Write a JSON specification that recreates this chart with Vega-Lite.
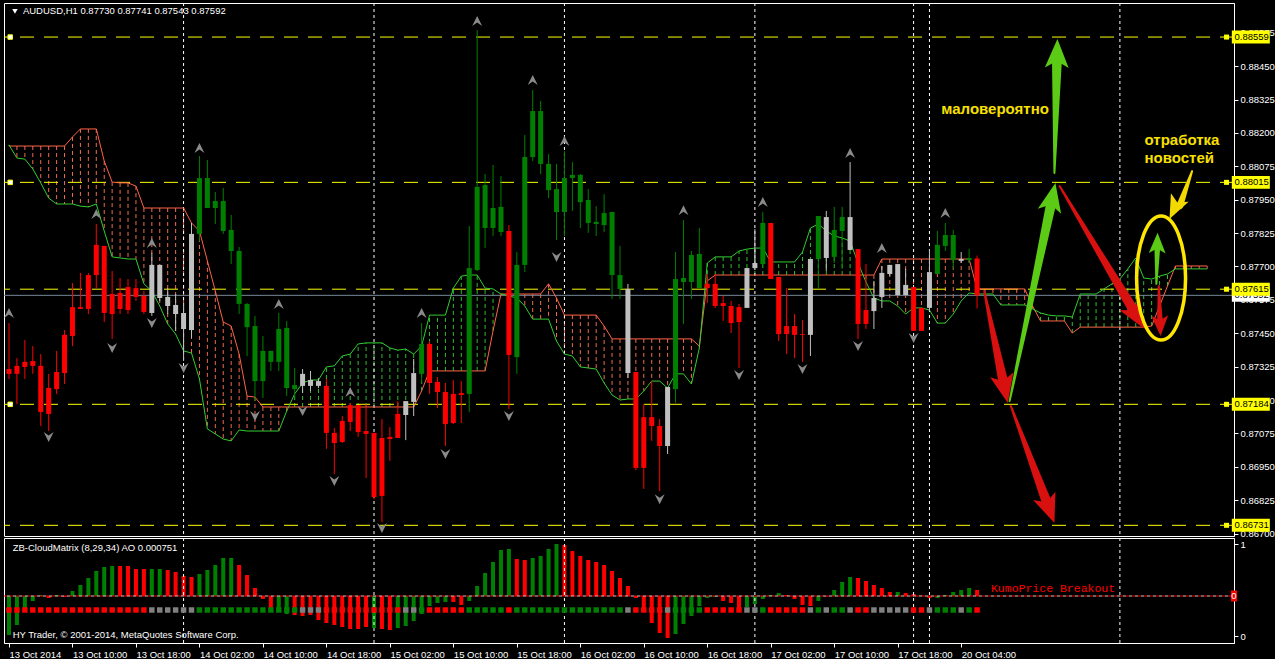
{
"$schema": "https://vega.github.io/schema/vega-lite/v6.json",
"background": "#000000",
"padding": {"left": 3, "top": 2, "right": 0, "bottom": 0},
"spacing": 2,
"bounds": "flush",
"config": {
  "view": {"stroke": "#FFFFFF", "strokeWidth": 1},
  "axis": {"labelFont": "Liberation Sans", "labelFontSize": 9.5, "labelColor": "#FFFFFF", "tickColor": "#FFFFFF", "domainColor": "#FFFFFF", "grid": false, "labelOverlap": false, "labelFlush": false, "labelBound": false, "tickSize": 4, "labelPadding": 2}
},
"datasets": {
  "seps": [{"i":22},{"i":46},{"i":70},{"i":94},{"i":114},{"i":116},{"i":140}],
  "levels": [{"p":0.88559},{"p":0.88015},{"p":0.87615},{"p":0.87184},{"p":0.86731}],
  "anchors": [{"p":0.88559},{"p":0.88015},{"p":0.87184}],
  "bid": [{"p":0.87592}],
  "zero": [{"v":0}],
  "fractals": [
    {"i":0,"p":0.87526,"t":"up"},{"i":11,"p":0.87897,"t":"up"},{"i":18,"p":0.87788,"t":"up"},{"i":24,"p":0.88144,"t":"up"},{"i":34,"p":0.8756,"t":"up"},{"i":43,"p":0.8723,"t":"up"},{"i":52,"p":0.87526,"t":"up"},{"i":59,"p":0.88619,"t":"up"},{"i":66,"p":0.88398,"t":"up"},{"i":70,"p":0.8817,"t":"up"},{"i":85,"p":0.87911,"t":"up"},{"i":95,"p":0.87941,"t":"up"},{"i":106,"p":0.88125,"t":"up"},{"i":110,"p":0.87769,"t":"up"},{"i":118,"p":0.879,"t":"up"},
    {"i":5,"p":0.87062,"t":"dn"},{"i":13,"p":0.87395,"t":"dn"},{"i":18,"p":0.87488,"t":"dn"},{"i":22,"p":0.8732,"t":"dn"},{"i":31,"p":0.8714,"t":"dn"},{"i":37,"p":0.87159,"t":"dn"},{"i":41,"p":0.86897,"t":"dn"},{"i":47,"p":0.86721,"t":"dn"},{"i":55,"p":0.86998,"t":"dn"},{"i":63,"p":0.8714,"t":"dn"},{"i":69,"p":0.87736,"t":"dn"},{"i":82,"p":0.86829,"t":"dn"},{"i":92,"p":0.87294,"t":"dn"},{"i":100,"p":0.87316,"t":"dn"},{"i":107,"p":0.87402,"t":"dn"},{"i":114,"p":0.87432,"t":"dn"}
  ],
  "arrowpts": [
    {"id":"A1","dir":"down","kind":"major","end":"tail","seq":0,"i":122.9,"p":0.87608},
    {"id":"A1","dir":"down","kind":"major","end":"neck","seq":1,"i":125.35,"p":0.87262},
    {"id":"A2","dir":"up","kind":"major","end":"tail","seq":0,"i":126.1,"p":0.87196},
    {"id":"A2","dir":"up","kind":"major","end":"neck","seq":1,"i":131.36,"p":0.87939},
    {"id":"A3","dir":"up","kind":"major","end":"tail","seq":0,"i":131.75,"p":0.8805},
    {"id":"A3","dir":"up","kind":"major","end":"neck","seq":1,"i":132.07,"p":0.88477},
    {"id":"A4","dir":"down","kind":"major","end":"tail","seq":0,"i":132.4,"p":0.88001},
    {"id":"A4","dir":"down","kind":"major","end":"neck","seq":1,"i":141.84,"p":0.8753},
    {"id":"A5","dir":"down","kind":"major","end":"tail","seq":0,"i":126.25,"p":0.87178},
    {"id":"A5","dir":"down","kind":"major","end":"neck","seq":1,"i":130.875,"p":0.8681},
    {"id":"A6","dir":"up","kind":"minor","end":"tail","seq":0,"i":144.6,"p":0.87635},
    {"id":"A6","dir":"up","kind":"minor","end":"neck","seq":1,"i":144.72,"p":0.8778},
    {"id":"A7","dir":"down","kind":"minor","end":"tail","seq":0,"i":144.9,"p":0.87627},
    {"id":"A7","dir":"down","kind":"minor","end":"neck","seq":1,"i":145.06,"p":0.87485},
    {"id":"A8","dir":"note","kind":"mid","end":"tail","seq":0,"i":149.1,"p":0.88057},
    {"id":"A8","dir":"note","kind":"mid","end":"neck","seq":1,"i":147.56,"p":0.87928}
  ],
  "arrowheads": [
    {"id":"A1","dir":"down","kind":"major","i":125.875,"p":0.87189,"ang":167.9},
    {"id":"A2","dir":"up","kind":"major","i":131.875,"p":0.88013,"ang":11.9},
    {"id":"A3","dir":"up","kind":"major","i":132.125,"p":0.88552,"ang":1.3},
    {"id":"A4","dir":"down","kind":"major","i":143.125,"p":0.87466,"ang":149},
    {"id":"A5","dir":"down","kind":"major","i":131.75,"p":0.8674,"ang":159.4},
    {"id":"A6","dir":"up","kind":"minor","i":144.75,"p":0.87826,"ang":1.2},
    {"id":"A7","dir":"down","kind":"minor","i":145.125,"p":0.8744,"ang":177.8},
    {"id":"A8","dir":"note","kind":"mid","i":146.25,"p":0.87878,"ang":205.6}
  ],
  "bars": [
{"i":0,"o":0.87316,"h":0.87488,"l":0.87279,"c":0.87298,"s":"bear","a":0.88151,"b":0.88155,"ao":-0.004875,"ac":"up"},
{"i":1,"o":0.87328,"h":0.87357,"l":0.87185,"c":0.87298,"s":"bear","a":0.88151,"b":0.88106,"ao":-0.003625,"ac":"up"},
{"i":2,"o":0.87343,"h":0.87425,"l":0.87279,"c":0.87324,"s":"bear","a":0.88151,"b":0.88102,"ao":-0.002,"ac":"up"},
{"i":3,"o":0.87346,"h":0.87402,"l":0.87298,"c":0.87328,"s":"bear","a":0.88151,"b":0.88065,"ao":-0.000625,"ac":"up"},
{"i":4,"o":0.87328,"h":0.87372,"l":0.87103,"c":0.87155,"s":"bear","a":0.88151,"b":0.88013,"ao":0.000125,"ac":"up"},
{"i":5,"o":0.87245,"h":0.87298,"l":0.87084,"c":0.87148,"s":"bear","a":0.88151,"b":0.87956,"ao":-0.00025,"ac":"dn"},
{"i":6,"o":0.87305,"h":0.87384,"l":0.87223,"c":0.87241,"s":"bear","a":0.88151,"b":0.87934,"ao":0.000125,"ac":"up"},
{"i":7,"o":0.87444,"h":0.87462,"l":0.8726,"c":0.87301,"s":"bear","a":0.88151,"b":0.87934,"ao":-0.000125,"ac":"dn"},
{"i":8,"o":0.87548,"h":0.87638,"l":0.87402,"c":0.8744,"s":"bear","a":0.88185,"b":0.87934,"ao":0.000625,"ac":"up"},
{"i":9,"o":0.87548,"h":0.87676,"l":0.87541,"c":0.87541,"s":"bear","a":0.88215,"b":0.87926,"ao":0.001375,"ac":"up"},
{"i":10,"o":0.87668,"h":0.87676,"l":0.87522,"c":0.87541,"s":"bear","a":0.88215,"b":0.87923,"ao":0.00225,"ac":"up"},
{"i":11,"o":0.87781,"h":0.87859,"l":0.87619,"c":0.87668,"s":"bear","a":0.88215,"b":0.87934,"ao":0.003125,"ac":"up"},
{"i":12,"o":0.87777,"h":0.87777,"l":0.87492,"c":0.87526,"s":"bear","a":0.88095,"b":0.87833,"ao":0.003625,"ac":"up"},
{"i":13,"o":0.87597,"h":0.87683,"l":0.87429,"c":0.87522,"s":"bear","a":0.88016,"b":0.87736,"ao":0.00375,"ac":"up"},
{"i":14,"o":0.87601,"h":0.87657,"l":0.87522,"c":0.87541,"s":"bear","a":0.88013,"b":0.87732,"ao":0.00375,"ac":"dn"},
{"i":15,"o":0.87623,"h":0.87653,"l":0.87522,"c":0.87537,"s":"bear","a":0.88013,"b":0.87728,"ao":0.00375,"ac":"dn"},
{"i":16,"o":0.87619,"h":0.87653,"l":0.87571,"c":0.87586,"s":"bear","a":0.88001,"b":0.87728,"ao":0.003375,"ac":"dn"},
{"i":17,"o":0.8759,"h":0.87608,"l":0.87522,"c":0.8753,"s":"bear","a":0.87919,"b":0.87635,"ao":0.003375,"ac":"dn"},
{"i":18,"o":0.87706,"h":0.87751,"l":0.87515,"c":0.87526,"s":"flat","a":0.87919,"b":0.87608,"ao":0.003375,"ac":"up"},
{"i":19,"o":0.87706,"h":0.87706,"l":0.87571,"c":0.87582,"s":"flat","a":0.87919,"b":0.87552,"ao":0.003375,"ac":"up"},
{"i":20,"o":0.87586,"h":0.87619,"l":0.87522,"c":0.87552,"s":"flat","a":0.87919,"b":0.87485,"ao":0.00325,"ac":"dn"},
{"i":21,"o":0.87556,"h":0.87597,"l":0.87459,"c":0.87522,"s":"flat","a":0.87919,"b":0.87447,"ao":0.003,"ac":"dn"},
{"i":22,"o":0.87526,"h":0.87563,"l":0.87346,"c":0.87466,"s":"flat","a":0.87919,"b":0.87384,"ao":0.0025,"ac":"dn"},
{"i":23,"o":0.87822,"h":0.87863,"l":0.87432,"c":0.87462,"s":"flat","a":0.87863,"b":0.87376,"ao":0.002375,"ac":"dn"},
{"i":24,"o":0.87822,"h":0.88114,"l":0.87795,"c":0.88031,"s":"bull","a":0.87833,"b":0.87279,"ao":0.00275,"ac":"up"},
{"i":25,"o":0.87919,"h":0.88099,"l":0.87919,"c":0.88031,"s":"bull","a":0.87721,"b":0.87092,"ao":0.00325,"ac":"up"},
{"i":26,"o":0.87919,"h":0.87979,"l":0.87859,"c":0.87945,"s":"bull","a":0.87608,"b":0.87073,"ao":0.003875,"ac":"up"},
{"i":27,"o":0.87833,"h":0.87994,"l":0.87822,"c":0.87945,"s":"bull","a":0.87492,"b":0.87054,"ao":0.00475,"ac":"up"},
{"i":28,"o":0.87758,"h":0.87893,"l":0.87709,"c":0.87837,"s":"bull","a":0.87477,"b":0.87047,"ao":0.00475,"ac":"up"},
{"i":29,"o":0.8756,"h":0.87773,"l":0.87522,"c":0.87758,"s":"bull","a":0.87372,"b":0.87088,"ao":0.003875,"ac":"dn"},
{"i":30,"o":0.87473,"h":0.87563,"l":0.87365,"c":0.8756,"s":"bull","a":0.87215,"b":0.87084,"ao":0.002625,"ac":"dn"},
{"i":31,"o":0.87271,"h":0.87515,"l":0.87196,"c":0.87477,"s":"bull","a":0.87211,"b":0.87084,"ao":0.001,"ac":"dn"},
{"i":32,"o":0.87271,"h":0.8744,"l":0.87208,"c":0.87384,"s":"bull","a":0.87174,"b":0.87084,"ao":-0.000375,"ac":"dn"},
{"i":33,"o":0.87343,"h":0.87384,"l":0.87309,"c":0.87384,"s":"bull","a":0.87174,"b":0.87084,"ao":-0.0015,"ac":"dn"},
{"i":34,"o":0.87343,"h":0.87526,"l":0.87309,"c":0.87466,"s":"bull","a":0.87174,"b":0.87084,"ao":-0.002,"ac":"up"},
{"i":35,"o":0.87245,"h":0.87496,"l":0.87215,"c":0.8747,"s":"bull","a":0.87174,"b":0.87159,"ao":-0.00225,"ac":"up"},
{"i":36,"o":0.87241,"h":0.8732,"l":0.87208,"c":0.87256,"s":"bull","a":0.87174,"b":0.87223,"ao":-0.002375,"ac":"dn"},
{"i":37,"o":0.87298,"h":0.87316,"l":0.87226,"c":0.87253,"s":"flat","a":0.87174,"b":0.87264,"ao":-0.0025,"ac":"dn"},
{"i":38,"o":0.87275,"h":0.87309,"l":0.87234,"c":0.87253,"s":"flat","a":0.87174,"b":0.87275,"ao":-0.002375,"ac":"dn"},
{"i":39,"o":0.87271,"h":0.87282,"l":0.87245,"c":0.87253,"s":"flat","a":0.87174,"b":0.87275,"ao":-0.003,"ac":"dn"},
{"i":40,"o":0.87253,"h":0.87279,"l":0.87017,"c":0.87077,"s":"bear","a":0.87174,"b":0.87324,"ao":-0.003375,"ac":"dn"},
{"i":41,"o":0.87077,"h":0.87095,"l":0.86923,"c":0.87039,"s":"bear","a":0.87174,"b":0.87328,"ao":-0.003625,"ac":"dn"},
{"i":42,"o":0.87122,"h":0.8714,"l":0.87039,"c":0.87043,"s":"bear","a":0.87174,"b":0.87365,"ao":-0.003875,"ac":"dn"},
{"i":43,"o":0.87181,"h":0.87189,"l":0.87084,"c":0.87118,"s":"bear","a":0.87174,"b":0.87372,"ao":-0.004125,"ac":"dn"},
{"i":44,"o":0.87181,"h":0.87181,"l":0.87062,"c":0.8708,"s":"bear","a":0.87174,"b":0.8741,"ao":-0.004125,"ac":"dn"},
{"i":45,"o":0.87084,"h":0.87185,"l":0.86908,"c":0.87073,"s":"bear","a":0.87174,"b":0.87414,"ao":-0.003875,"ac":"dn"},
{"i":46,"o":0.87077,"h":0.87077,"l":0.86829,"c":0.86837,"s":"bear","a":0.87174,"b":0.87414,"ao":-0.004,"ac":"up"},
{"i":47,"o":0.87058,"h":0.87129,"l":0.86743,"c":0.86841,"s":"bear","a":0.87174,"b":0.87414,"ao":-0.004125,"ac":"dn"},
{"i":48,"o":0.87062,"h":0.87099,"l":0.86972,"c":0.87054,"s":"bear","a":0.87174,"b":0.87395,"ao":-0.00425,"ac":"dn"},
{"i":49,"o":0.87148,"h":0.87196,"l":0.87058,"c":0.87058,"s":"bear","a":0.87174,"b":0.87387,"ao":-0.004,"ac":"up"},
{"i":50,"o":0.87196,"h":0.87196,"l":0.8705,"c":0.87144,"s":"flat","a":0.87174,"b":0.87391,"ao":-0.00375,"ac":"up"},
{"i":51,"o":0.87301,"h":0.87354,"l":0.8714,"c":0.87193,"s":"flat","a":0.87174,"b":0.87372,"ao":-0.003125,"ac":"up"},
{"i":52,"o":0.87298,"h":0.87488,"l":0.87264,"c":0.8741,"s":"bull","a":0.87234,"b":0.87402,"ao":-0.00225,"ac":"up"},
{"i":53,"o":0.8741,"h":0.87421,"l":0.87223,"c":0.87264,"s":"bear","a":0.87309,"b":0.87518,"ao":-0.00125,"ac":"up"},
{"i":54,"o":0.87268,"h":0.87286,"l":0.8717,"c":0.8723,"s":"bear","a":0.87309,"b":0.87518,"ao":-0.000875,"ac":"up"},
{"i":55,"o":0.8723,"h":0.87264,"l":0.87028,"c":0.8711,"s":"bear","a":0.87309,"b":0.87518,"ao":-0.00075,"ac":"up"},
{"i":56,"o":0.87223,"h":0.87275,"l":0.8711,"c":0.87114,"s":"bear","a":0.87309,"b":0.87619,"ao":-0.00075,"ac":"dn"},
{"i":57,"o":0.87226,"h":0.87271,"l":0.87114,"c":0.87219,"s":"bear","a":0.87309,"b":0.87664,"ao":-0.001125,"ac":"dn"},
{"i":58,"o":0.87223,"h":0.87852,"l":0.87155,"c":0.87694,"s":"bull","a":0.87309,"b":0.87668,"ao":-0.000625,"ac":"up"},
{"i":59,"o":0.87687,"h":0.88585,"l":0.87683,"c":0.87998,"s":"bull","a":0.87309,"b":0.87668,"ao":0.00125,"ac":"up"},
{"i":60,"o":0.87844,"h":0.88046,"l":0.87769,"c":0.88005,"s":"bull","a":0.87309,"b":0.87619,"ao":0.002875,"ac":"up"},
{"i":61,"o":0.87844,"h":0.8808,"l":0.87814,"c":0.87919,"s":"bull","a":0.87459,"b":0.87616,"ao":0.00425,"ac":"up"},
{"i":62,"o":0.87829,"h":0.88039,"l":0.87814,"c":0.87923,"s":"bull","a":0.87597,"b":0.87597,"ao":0.00575,"ac":"up"},
{"i":63,"o":0.87833,"h":0.87855,"l":0.87166,"c":0.87369,"s":"bear","a":0.87597,"b":0.8759,"ao":0.005875,"ac":"up"},
{"i":64,"o":0.87361,"h":0.87754,"l":0.87298,"c":0.87706,"s":"bull","a":0.87597,"b":0.87582,"ao":0.004625,"ac":"dn"},
{"i":65,"o":0.87706,"h":0.88192,"l":0.87679,"c":0.8811,"s":"bull","a":0.87597,"b":0.87552,"ao":0.0045,"ac":"dn"},
{"i":66,"o":0.8811,"h":0.88361,"l":0.88095,"c":0.88282,"s":"bull","a":0.87597,"b":0.87503,"ao":0.00475,"ac":"up"},
{"i":67,"o":0.88084,"h":0.8832,"l":0.88046,"c":0.88282,"s":"bull","a":0.87597,"b":0.87503,"ao":0.005,"ac":"up"},
{"i":68,"o":0.87986,"h":0.88121,"l":0.87956,"c":0.88084,"s":"bull","a":0.87635,"b":0.87503,"ao":0.005875,"ac":"up"},
{"i":69,"o":0.87904,"h":0.88084,"l":0.87799,"c":0.8799,"s":"bull","a":0.87582,"b":0.87421,"ao":0.0065,"ac":"up"},
{"i":70,"o":0.87904,"h":0.88132,"l":0.87814,"c":0.88031,"s":"bull","a":0.87518,"b":0.87372,"ao":0.006375,"ac":"dn"},
{"i":71,"o":0.88031,"h":0.88091,"l":0.87908,"c":0.88043,"s":"bull","a":0.87518,"b":0.87365,"ao":0.005625,"ac":"dn"},
{"i":72,"o":0.87941,"h":0.88046,"l":0.87844,"c":0.88043,"s":"bull","a":0.87518,"b":0.87324,"ao":0.005,"ac":"dn"},
{"i":73,"o":0.87863,"h":0.8799,"l":0.87826,"c":0.87949,"s":"bull","a":0.87518,"b":0.8732,"ao":0.0045,"ac":"dn"},
{"i":74,"o":0.87859,"h":0.87926,"l":0.87814,"c":0.87867,"s":"bull","a":0.87518,"b":0.87316,"ao":0.00425,"ac":"dn"},
{"i":75,"o":0.87855,"h":0.87971,"l":0.87829,"c":0.879,"s":"bull","a":0.87477,"b":0.87264,"ao":0.003875,"ac":"dn"},
{"i":76,"o":0.87668,"h":0.87904,"l":0.87578,"c":0.87904,"s":"bull","a":0.87429,"b":0.87219,"ao":0.003125,"ac":"dn"},
{"i":77,"o":0.87616,"h":0.87777,"l":0.87578,"c":0.87668,"s":"bull","a":0.87429,"b":0.872,"ao":0.00225,"ac":"dn"},
{"i":78,"o":0.87616,"h":0.87635,"l":0.87282,"c":0.87301,"s":"flat","a":0.87429,"b":0.87204,"ao":0.00125,"ac":"dn"},
{"i":79,"o":0.87305,"h":0.87305,"l":0.86938,"c":0.86946,"s":"bear","a":0.87429,"b":0.87204,"ao":-0.00025,"ac":"dn"},
{"i":80,"o":0.87136,"h":0.87185,"l":0.86867,"c":0.86946,"s":"bear","a":0.87429,"b":0.87234,"ao":-0.00175,"ac":"dn"},
{"i":81,"o":0.87136,"h":0.87271,"l":0.87047,"c":0.87103,"s":"bear","a":0.87429,"b":0.87271,"ao":-0.003375,"ac":"dn"},
{"i":82,"o":0.87103,"h":0.87129,"l":0.86859,"c":0.87028,"s":"bear","a":0.87429,"b":0.87271,"ao":-0.004625,"ac":"dn"},
{"i":83,"o":0.87249,"h":0.87249,"l":0.86998,"c":0.87028,"s":"flat","a":0.87429,"b":0.87245,"ao":-0.00525,"ac":"dn"},
{"i":84,"o":0.87241,"h":0.87754,"l":0.87189,"c":0.87653,"s":"bull","a":0.87429,"b":0.87298,"ao":-0.00475,"ac":"up"},
{"i":85,"o":0.87642,"h":0.87874,"l":0.87485,"c":0.87657,"s":"bull","a":0.87429,"b":0.87298,"ao":-0.0035,"ac":"up"},
{"i":86,"o":0.87642,"h":0.87758,"l":0.87578,"c":0.87743,"s":"bull","a":0.87429,"b":0.8726,"ao":-0.0025,"ac":"up"},
{"i":87,"o":0.87619,"h":0.87844,"l":0.87619,"c":0.87747,"s":"bull","a":0.87402,"b":0.87395,"ao":-0.00125,"ac":"up"},
{"i":88,"o":0.87635,"h":0.87672,"l":0.87563,"c":0.87619,"s":"bear","a":0.87646,"b":0.87713,"ao":-0.00025,"ac":"up"},
{"i":89,"o":0.87635,"h":0.87672,"l":0.87545,"c":0.87552,"s":"bear","a":0.87668,"b":0.87736,"ao":-0.000125,"ac":"up"},
{"i":90,"o":0.87563,"h":0.8759,"l":0.87496,"c":0.87552,"s":"bear","a":0.87668,"b":0.87736,"ao":-0.000625,"ac":"dn"},
{"i":91,"o":0.87552,"h":0.87571,"l":0.87451,"c":0.87488,"s":"bear","a":0.87668,"b":0.87736,"ao":-0.000875,"ac":"dn"},
{"i":92,"o":0.87548,"h":0.8756,"l":0.8732,"c":0.87492,"s":"bear","a":0.87668,"b":0.87758,"ao":-0.001625,"ac":"dn"},
{"i":93,"o":0.87694,"h":0.87694,"l":0.87545,"c":0.87545,"s":"flat","a":0.87668,"b":0.87765,"ao":-0.001375,"ac":"up"},
{"i":94,"o":0.87713,"h":0.8784,"l":0.87694,"c":0.87694,"s":"flat","a":0.87668,"b":0.87769,"ao":-0.001,"ac":"up"},
{"i":95,"o":0.87709,"h":0.87904,"l":0.87709,"c":0.87863,"s":"bull","a":0.87668,"b":0.87769,"ao":-0.000375,"ac":"up"},
{"i":96,"o":0.87863,"h":0.87863,"l":0.87653,"c":0.87653,"s":"bear","a":0.87668,"b":0.87717,"ao":0.000125,"ac":"up"},
{"i":97,"o":0.87661,"h":0.87661,"l":0.87421,"c":0.87447,"s":"bear","a":0.87668,"b":0.87717,"ao":0.000375,"ac":"up"},
{"i":98,"o":0.87477,"h":0.87619,"l":0.87372,"c":0.87447,"s":"bear","a":0.87668,"b":0.87717,"ao":0.000125,"ac":"dn"},
{"i":99,"o":0.87477,"h":0.87522,"l":0.87357,"c":0.87444,"s":"bear","a":0.87668,"b":0.87717,"ao":-0.000375,"ac":"dn"},
{"i":100,"o":0.87447,"h":0.875,"l":0.87343,"c":0.87444,"s":"bear","a":0.87668,"b":0.87754,"ao":-0.001125,"ac":"dn"},
{"i":101,"o":0.87728,"h":0.87728,"l":0.87365,"c":0.87444,"s":"flat","a":0.87668,"b":0.87844,"ao":-0.00125,"ac":"dn"},
{"i":102,"o":0.87728,"h":0.87889,"l":0.87616,"c":0.87889,"s":"bull","a":0.87668,"b":0.87859,"ao":-0.000625,"ac":"up"},
{"i":103,"o":0.87885,"h":0.87908,"l":0.87683,"c":0.87732,"s":"flat","a":0.87668,"b":0.87833,"ao":-0.00006,"ac":"dn"},
{"i":104,"o":0.87736,"h":0.87923,"l":0.87713,"c":0.87837,"s":"bull","a":0.87668,"b":0.87814,"ao":0.00075,"ac":"up"},
{"i":105,"o":0.87833,"h":0.87923,"l":0.87691,"c":0.87885,"s":"bull","a":0.87668,"b":0.87807,"ao":0.00175,"ac":"up"},
{"i":106,"o":0.87885,"h":0.88091,"l":0.87762,"c":0.87762,"s":"flat","a":0.87668,"b":0.87795,"ao":0.002375,"ac":"up"},
{"i":107,"o":0.87765,"h":0.87765,"l":0.87429,"c":0.87485,"s":"bear","a":0.87668,"b":0.87713,"ao":0.00225,"ac":"dn"},
{"i":108,"o":0.87537,"h":0.87709,"l":0.87466,"c":0.87485,"s":"bear","a":0.87668,"b":0.87642,"ao":0.001875,"ac":"dn"},
{"i":109,"o":0.87582,"h":0.87646,"l":0.87466,"c":0.87533,"s":"flat","a":0.87668,"b":0.87582,"ao":0.001375,"ac":"dn"},
{"i":110,"o":0.87676,"h":0.87702,"l":0.87545,"c":0.87586,"s":"flat","a":0.87728,"b":0.87571,"ao":0.001,"ac":"dn"},
{"i":111,"o":0.87706,"h":0.87706,"l":0.87664,"c":0.87672,"s":"flat","a":0.87728,"b":0.87571,"ao":0.0005,"ac":"dn"},
{"i":112,"o":0.87709,"h":0.87709,"l":0.87593,"c":0.87593,"s":"flat","a":0.87728,"b":0.87552,"ao":0.0005,"ac":"up"},
{"i":113,"o":0.87631,"h":0.87691,"l":0.87593,"c":0.87593,"s":"flat","a":0.87728,"b":0.87522,"ao":0.000375,"ac":"dn"},
{"i":114,"o":0.87623,"h":0.87623,"l":0.87459,"c":0.87459,"s":"bear","a":0.87728,"b":0.87545,"ao":0.00025,"ac":"dn"},
{"i":115,"o":0.87545,"h":0.87545,"l":0.87459,"c":0.87459,"s":"bear","a":0.87728,"b":0.87545,"ao":0.00005,"ac":"dn"},
{"i":116,"o":0.87679,"h":0.87765,"l":0.87533,"c":0.87545,"s":"flat","a":0.87728,"b":0.87537,"ao":-0.00025,"ac":"dn"},
{"i":117,"o":0.87672,"h":0.87833,"l":0.87672,"c":0.87781,"s":"bull","a":0.87728,"b":0.87488,"ao":-0.00025,"ac":"up"},
{"i":118,"o":0.87777,"h":0.87863,"l":0.87758,"c":0.87818,"s":"bull","a":0.87728,"b":0.87488,"ao":0.000125,"ac":"up"},
{"i":119,"o":0.87724,"h":0.87837,"l":0.87691,"c":0.87818,"s":"bull","a":0.87728,"b":0.87522,"ao":0.0005,"ac":"up"},
{"i":120,"o":0.87728,"h":0.87754,"l":0.87713,"c":0.87721,"s":"flat","a":0.87728,"b":0.87571,"ao":0.00075,"ac":"up"},
{"i":121,"o":0.87724,"h":0.87765,"l":0.87713,"c":0.87732,"s":"bull","a":0.87728,"b":0.87601,"ao":0.001,"ac":"up"},
{"i":122,"o":0.8773,"h":0.87741,"l":0.87543,"c":0.87592,"s":"bear","a":0.87616,"b":0.87597,"ao":0.000751,"ac":"dn"},
{"i":123,"a":0.87616,"b":0.87597},{"i":124,"a":0.87616,"b":0.87597},{"i":125,"a":0.87616,"b":0.87556},{"i":126,"a":0.87616,"b":0.87556},
{"i":127,"a":0.87616,"b":0.87556},{"i":128,"a":0.87616,"b":0.87556},{"i":129,"a":0.87552,"b":0.87541},{"i":130,"a":0.87496,"b":0.87526},
{"i":131,"a":0.87496,"b":0.87518},{"i":132,"a":0.87496,"b":0.87515},{"i":133,"a":0.87496,"b":0.87515},{"i":134,"a":0.87451,"b":0.87511},
{"i":135,"a":0.87473,"b":0.87597},{"i":136,"a":0.87473,"b":0.87597},{"i":137,"a":0.87473,"b":0.87597},{"i":138,"a":0.87473,"b":0.87616},
{"i":139,"a":0.87473,"b":0.87635},{"i":140,"a":0.87473,"b":0.87653},{"i":141,"a":0.87473,"b":0.87691},{"i":142,"a":0.87473,"b":0.87732},
{"i":143,"a":0.87473,"b":0.87657},{"i":144,"a":0.87477,"b":0.87653},{"i":145,"a":0.87552,"b":0.87664},{"i":146,"a":0.87627,"b":0.87672},
{"i":147,"a":0.87702,"b":0.87691},{"i":148,"a":0.87702,"b":0.87691},{"i":149,"a":0.87702,"b":0.87691},{"i":150,"a":0.87702,"b":0.87691},
{"i":151,"a":0.87702,"b":0.87691}
  ]
},
"vconcat": [
{
  "width": 1230, "height": 533,
  "resolve": {"axis": {"x": "independent", "y": "independent"}},
  "layer": [
    {"data": {"name": "bars"}, "mark": {"type": "rule", "strokeDash": [4, 3], "strokeWidth": 1, "clip": true},
     "encoding": {
       "x": {"field": "i", "type": "quantitative", "scale": {"domain": [0, 153.75], "nice": false, "zero": false}, "axis": null},
       "y": {"field": "a", "type": "quantitative", "scale": {"domain": [0.86691, 0.886865], "nice": false, "zero": false},
             "axis": {"orient": "right", "title": null, "format": ".5f", "values": [0.867, 0.86825, 0.8695, 0.87075, 0.872, 0.87325, 0.8745, 0.87575, 0.877, 0.87825, 0.8795, 0.88075, 0.882, 0.88325, 0.8845, 0.88575],
                      "labelColor": "#FFFFFF", "tickColor": "#FFFFFF", "domainColor": "#FFFFFF", "labelFont": "Liberation Sans", "labelFontSize": 9.5, "tickSize": 4, "labelPadding": 2, "labelFlush": false, "labelOverlap": false, "labelBound": false, "grid": false}},
       "y2": {"field": "b"},
       "color": {"condition": {"test": "datum.a > datum.b", "value": "#F06A50"}, "value": "#2DBE2D"}}},
    {"data": {"name": "seps"}, "mark": {"type": "rule", "color": "#FFFFFF", "strokeDash": [3, 3], "strokeWidth": 1},
     "encoding": {"x": {"field": "i", "type": "quantitative", "scale": {"domain": [0, 153.75], "nice": false, "zero": false}, "axis": null}}},
    {"data": {"name": "levels"}, "mark": {"type": "rule", "color": "#FFFF00", "strokeDash": [14, 10], "strokeWidth": 1},
     "encoding": {"y": {"field": "p", "type": "quantitative", "scale": {"domain": [0.86691, 0.886865], "nice": false, "zero": false}, "axis": null}}},
    {"data": {"name": "bid"}, "mark": {"type": "rule", "color": "#778899", "strokeWidth": 1},
     "encoding": {"y": {"field": "p", "type": "quantitative", "scale": {"domain": [0.86691, 0.886865], "nice": false, "zero": false}, "axis": null}}},
    {"data": {"name": "bars"}, "mark": {"type": "line", "color": "#FF6347", "strokeWidth": 1, "clip": true},
     "encoding": {
       "x": {"field": "i", "type": "quantitative", "scale": {"domain": [0, 153.75], "nice": false, "zero": false}, "axis": null},
       "y": {"field": "a", "type": "quantitative", "scale": {"domain": [0.86691, 0.886865], "nice": false, "zero": false}, "axis": null}}},
    {"data": {"name": "bars"}, "mark": {"type": "line", "color": "#32CD32", "strokeWidth": 1, "clip": true},
     "encoding": {
       "x": {"field": "i", "type": "quantitative", "scale": {"domain": [0, 153.75], "nice": false, "zero": false}, "axis": null},
       "y": {"field": "b", "type": "quantitative", "scale": {"domain": [0.86691, 0.886865], "nice": false, "zero": false}, "axis": null}}},
    {"data": {"name": "bars"}, "transform": [{"filter": "datum.o != null"}], "mark": {"type": "rule", "strokeWidth": 1, "clip": true},
     "encoding": {
       "x": {"field": "i", "type": "quantitative", "scale": {"domain": [0, 153.75], "nice": false, "zero": false}, "axis": null},
       "y": {"field": "l", "type": "quantitative", "scale": {"domain": [0.86691, 0.886865], "nice": false, "zero": false}, "axis": null},
       "y2": {"field": "h"},
       "color": {"condition": [{"test": "datum.s == 'bear'", "value": "#FF0000"}, {"test": "datum.s == 'bull'", "value": "#008000"}], "value": "#C0C0C0"}}},
    {"data": {"name": "bars"}, "transform": [{"filter": "datum.o != null"}], "mark": {"type": "bar", "width": 5, "clip": true},
     "encoding": {
       "x": {"field": "i", "type": "quantitative", "scale": {"domain": [0, 153.75], "nice": false, "zero": false}, "axis": null},
       "y": {"field": "o", "type": "quantitative", "scale": {"domain": [0.86691, 0.886865], "nice": false, "zero": false}, "axis": null},
       "y2": {"field": "c"},
       "color": {"condition": [{"test": "datum.s == 'bear'", "value": "#FF0000"}, {"test": "datum.s == 'bull'", "value": "#008000"}], "value": "#C0C0C0"}}},
    {"data": {"name": "fractals"}, "transform": [{"filter": "datum.t == 'up'"}],
     "mark": {"type": "point", "shape": "M0,-1L1,1L0,0.3L-1,1Z", "filled": true, "color": "#8A8A8A", "size": 100, "opacity": 1, "clip": true},
     "encoding": {
       "x": {"field": "i", "type": "quantitative", "scale": {"domain": [0, 153.75], "nice": false, "zero": false}, "axis": null},
       "y": {"field": "p", "type": "quantitative", "scale": {"domain": [0.86691, 0.886865], "nice": false, "zero": false}, "axis": null}}},
    {"data": {"name": "fractals"}, "transform": [{"filter": "datum.t == 'dn'"}],
     "mark": {"type": "point", "shape": "M0,1L1,-1L0,-0.3L-1,-1Z", "filled": true, "color": "#8A8A8A", "size": 100, "opacity": 1, "clip": true},
     "encoding": {
       "x": {"field": "i", "type": "quantitative", "scale": {"domain": [0, 153.75], "nice": false, "zero": false}, "axis": null},
       "y": {"field": "p", "type": "quantitative", "scale": {"domain": [0.86691, 0.886865], "nice": false, "zero": false}, "axis": null}}},
    {"data": {"name": "arrowpts"}, "mark": {"type": "trail", "opacity": 1},
     "encoding": {
       "x": {"field": "i", "type": "quantitative", "scale": {"domain": [0, 153.75], "nice": false, "zero": false}, "axis": null},
       "y": {"field": "p", "type": "quantitative", "scale": {"domain": [0.86691, 0.886865], "nice": false, "zero": false}, "axis": null},
       "detail": {"field": "id", "type": "nominal"},
       "order": {"field": "seq", "type": "quantitative"},
       "size": {"condition": [{"test": "datum.end == 'tail'", "value": 2}, {"test": "datum.kind == 'minor'", "value": 6}, {"test": "datum.kind == 'mid'", "value": 7}], "value": 10},
       "color": {"condition": [{"test": "datum.dir == 'up'", "value": "#5CCB16"}, {"test": "datum.dir == 'down'", "value": "#D81010"}], "value": "#F2DA00"}}},
    {"data": {"name": "arrowheads"}, "mark": {"type": "point", "shape": "M0,0L0.7,1.7L0,1.3L-0.7,1.7Z", "filled": true, "opacity": 1},
     "encoding": {
       "x": {"field": "i", "type": "quantitative", "scale": {"domain": [0, 153.75], "nice": false, "zero": false}, "axis": null},
       "y": {"field": "p", "type": "quantitative", "scale": {"domain": [0.86691, 0.886865], "nice": false, "zero": false}, "axis": null},
       "angle": {"field": "ang", "type": "quantitative", "scale": null},
       "size": {"condition": [{"test": "datum.kind == 'minor'", "value": 576}, {"test": "datum.kind == 'mid'", "value": 784}], "value": 1156},
       "color": {"condition": [{"test": "datum.dir == 'up'", "value": "#5CCB16"}, {"test": "datum.dir == 'down'", "value": "#D81010"}], "value": "#F2DA00"}}},
    {"data": {"values": [{"k": "news"}]},
     "mark": {"type": "point", "shape": "M0.395,0C0.395,0.552,0.218,1,0,1C-0.218,1,-0.395,0.552,-0.395,0C-0.395,-0.552,-0.218,-1,0,-1C0.218,-1,0.395,-0.552,0.395,0Z", "filled": false, "color": "#FFE600", "strokeWidth": 3.5, "size": 15376, "opacity": 1},
     "encoding": {
       "x": {"datum": 145.19, "type": "quantitative", "scale": {"domain": [0, 153.75], "nice": false, "zero": false}, "axis": null},
       "y": {"datum": 0.87657, "type": "quantitative", "scale": {"domain": [0.86691, 0.886865], "nice": false, "zero": false}, "axis": null}}},
    {"data": {"values": [{"t": "маловероятно"}]},
     "mark": {"type": "text", "align": "left", "baseline": "middle", "font": "Liberation Sans", "fontWeight": "bold", "fontSize": 15, "color": "#F8E000"},
     "encoding": {
       "x": {"datum": 117.5, "type": "quantitative", "scale": {"domain": [0, 153.75], "nice": false, "zero": false}, "axis": null},
       "y": {"datum": 0.8829, "type": "quantitative", "scale": {"domain": [0.86691, 0.886865], "nice": false, "zero": false}, "axis": null},
       "text": {"field": "t"}}},
    {"data": {"values": [{"t": "отработка"}]},
     "mark": {"type": "text", "align": "left", "baseline": "middle", "font": "Liberation Sans", "fontWeight": "bold", "fontSize": 15, "color": "#F8E000"},
     "encoding": {
       "x": {"datum": 143.1, "type": "quantitative", "scale": {"domain": [0, 153.75], "nice": false, "zero": false}, "axis": null},
       "y": {"datum": 0.88174, "type": "quantitative", "scale": {"domain": [0.86691, 0.886865], "nice": false, "zero": false}, "axis": null},
       "text": {"field": "t"}}},
    {"data": {"values": [{"t": "новостей"}]},
     "mark": {"type": "text", "align": "left", "baseline": "middle", "font": "Liberation Sans", "fontWeight": "bold", "fontSize": 15, "color": "#F8E000"},
     "encoding": {
       "x": {"datum": 143.1, "type": "quantitative", "scale": {"domain": [0, 153.75], "nice": false, "zero": false}, "axis": null},
       "y": {"datum": 0.88106, "type": "quantitative", "scale": {"domain": [0.86691, 0.886865], "nice": false, "zero": false}, "axis": null},
       "text": {"field": "t"}}},
    {"data": {"values": [{"t": "AUDUSD,H1  0.87730 0.87741 0.87543 0.87592"}]},
     "mark": {"type": "text", "align": "left", "baseline": "middle", "font": "Liberation Sans", "fontSize": 9.5, "color": "#FFFFFF"},
     "encoding": {
       "x": {"datum": 1.75, "type": "quantitative", "scale": {"domain": [0, 153.75], "nice": false, "zero": false}, "axis": null},
       "y": {"datum": 0.88655, "type": "quantitative", "scale": {"domain": [0.86691, 0.886865], "nice": false, "zero": false}, "axis": null},
       "text": {"field": "t"}}},
    {"data": {"values": [{"t": "menu"}]},
     "mark": {"type": "point", "shape": "triangle-down", "filled": true, "color": "#FFFFFF", "size": 30, "opacity": 1},
     "encoding": {
       "x": {"datum": 0.75, "type": "quantitative", "scale": {"domain": [0, 153.75], "nice": false, "zero": false}, "axis": null},
       "y": {"datum": 0.88655, "type": "quantitative", "scale": {"domain": [0.86691, 0.886865], "nice": false, "zero": false}, "axis": null}}},
    {"data": {"name": "anchors"},
     "mark": {"type": "square", "fill": "#FFFFFF", "stroke": "#FFFF00", "strokeWidth": 1, "size": 20, "opacity": 1, "clip": true},
     "encoding": {
       "x": {"datum": 0.15, "type": "quantitative", "scale": {"domain": [0, 153.75], "nice": false, "zero": false}, "axis": null},
       "y": {"field": "p", "type": "quantitative", "scale": {"domain": [0.86691, 0.886865], "nice": false, "zero": false}, "axis": null}}},
    {"data": {"name": "bid"},
     "mark": {"type": "point", "shape": "M-1,-0.34L1,-0.34L1,0.34L-1,0.34Z", "filled": true, "color": "#FFFFFF", "size": 1444, "opacity": 1},
     "encoding": {
       "x": {"datum": 156.5, "type": "quantitative", "scale": {"domain": [0, 153.75], "nice": false, "zero": false}, "axis": null},
       "y": {"field": "p", "type": "quantitative", "scale": {"domain": [0.86691, 0.886865], "nice": false, "zero": false}, "axis": null}}},
    {"data": {"name": "bid"},
     "mark": {"type": "text", "align": "left", "baseline": "middle", "font": "Liberation Sans", "fontSize": 9.5, "color": "#000000"},
     "encoding": {
       "x": {"datum": 154.44, "type": "quantitative", "scale": {"domain": [0, 153.75], "nice": false, "zero": false}, "axis": null},
       "y": {"field": "p", "type": "quantitative", "scale": {"domain": [0.86691, 0.886865], "nice": false, "zero": false}, "axis": null},
       "text": {"field": "p", "type": "quantitative", "format": ".5f"}}},
    {"data": {"name": "levels"},
     "mark": {"type": "point", "shape": "M-1,-0.34L1,-0.34L1,0.34L-1,0.34Z", "filled": true, "color": "#FFFF00", "size": 1444, "opacity": 1},
     "encoding": {
       "x": {"datum": 156.5, "type": "quantitative", "scale": {"domain": [0, 153.75], "nice": false, "zero": false}, "axis": null},
       "y": {"field": "p", "type": "quantitative", "scale": {"domain": [0.86691, 0.886865], "nice": false, "zero": false}, "axis": null}}},
    {"data": {"name": "levels"},
     "mark": {"type": "square", "filled": true, "color": "#FFFF00", "size": 25, "opacity": 1},
     "encoding": {
       "x": {"datum": 153.44, "type": "quantitative", "scale": {"domain": [0, 153.75], "nice": false, "zero": false}, "axis": null},
       "y": {"field": "p", "type": "quantitative", "scale": {"domain": [0.86691, 0.886865], "nice": false, "zero": false}, "axis": null}}},
    {"data": {"name": "levels"},
     "mark": {"type": "text", "align": "left", "baseline": "middle", "font": "Liberation Sans", "fontSize": 9.5, "color": "#000000"},
     "encoding": {
       "x": {"datum": 154.44, "type": "quantitative", "scale": {"domain": [0, 153.75], "nice": false, "zero": false}, "axis": null},
       "y": {"field": "p", "type": "quantitative", "scale": {"domain": [0.86691, 0.886865], "nice": false, "zero": false}, "axis": null},
       "text": {"field": "p", "type": "quantitative", "format": ".5f"}}}
  ]
},
{
  "width": 1230, "height": 105,
  "resolve": {"axis": {"x": "independent", "y": "independent"}},
  "layer": [
    {"data": {"name": "bars"}, "transform": [{"filter": "datum.ao != null"}], "mark": {"type": "bar", "width": 4, "clip": true},
     "encoding": {
       "x": {"field": "i", "type": "quantitative", "scale": {"domain": [0, 153.75], "nice": false, "zero": false},
             "axis": {"orient": "bottom", "title": null, "values": [0, 8, 16, 24, 32, 40, 48, 56, 64, 72, 80, 88, 96, 104, 112, 120], "labelAlign": "left",
                      "labelColor": "#FFFFFF", "tickColor": "#FFFFFF", "domainColor": "#FFFFFF", "labelFont": "Liberation Sans", "labelFontSize": 9.5, "tickSize": 4, "labelPadding": 2, "labelFlush": false, "labelOverlap": false, "labelBound": false, "grid": false,
                      "labelExpr": "['13 Oct 2014','13 Oct 10:00','13 Oct 18:00','14 Oct 02:00','14 Oct 10:00','14 Oct 18:00','15 Oct 02:00','15 Oct 10:00','15 Oct 18:00','16 Oct 02:00','16 Oct 10:00','16 Oct 18:00','17 Oct 02:00','17 Oct 10:00','17 Oct 18:00','20 Oct 04:00'][round(datum.value / 8)]"}},
       "y": {"field": "ao", "type": "quantitative", "scale": {"domain": [-0.005875, 0.00725], "nice": false, "zero": false},
             "axis": {"orient": "right", "title": null, "values": [0.0065, -0.005], "labelExpr": "datum.value > 0 ? '1' : '0'",
                      "labelColor": "#FFFFFF", "tickColor": "#FFFFFF", "domainColor": "#FFFFFF", "labelFont": "Liberation Sans", "labelFontSize": 9.5, "tickSize": 4, "labelPadding": 2, "labelFlush": false, "labelOverlap": false, "labelBound": false, "grid": false}},
       "y2": {"datum": 0},
       "color": {"condition": {"test": "datum.ac == 'up'", "value": "#008000"}, "value": "#FF0000"}}},
    {"data": {"name": "seps"}, "mark": {"type": "rule", "color": "#FFFFFF", "strokeDash": [3, 3], "strokeWidth": 1},
     "encoding": {"x": {"field": "i", "type": "quantitative", "scale": {"domain": [0, 153.75], "nice": false, "zero": false}, "axis": null}}},
    {"data": {"name": "zero"}, "mark": {"type": "rule", "color": "#C8C8C8", "strokeDash": [3, 3], "strokeWidth": 1},
     "encoding": {"y": {"field": "v", "type": "quantitative", "scale": {"domain": [-0.005875, 0.00725], "nice": false, "zero": false}, "axis": null}}},
    {"data": {"name": "zero"}, "mark": {"type": "rule", "color": "#FF0000", "strokeDash": [3, 3], "strokeDashOffset": 3, "strokeWidth": 1},
     "encoding": {"y": {"field": "v", "type": "quantitative", "scale": {"domain": [-0.005875, 0.00725], "nice": false, "zero": false}, "axis": null}}},
    {"data": {"name": "bars"}, "transform": [{"filter": "datum.o != null"}],
     "mark": {"type": "square", "filled": true, "size": 30, "opacity": 1, "clip": true},
     "encoding": {
       "x": {"field": "i", "type": "quantitative", "scale": {"domain": [0, 153.75], "nice": false, "zero": false}, "axis": null},
       "y": {"datum": -0.00175, "type": "quantitative", "scale": {"domain": [-0.005875, 0.00725], "nice": false, "zero": false}, "axis": null},
       "color": {"condition": [{"test": "datum.s == 'bear'", "value": "#FF0000"}, {"test": "datum.s == 'bull'", "value": "#008000"}], "value": "#808080"}}},
    {"data": {"values": [{"t": "ZB-CloudMatrix (8,29,34)  AO 0.000751"}]},
     "mark": {"type": "text", "align": "left", "baseline": "middle", "font": "Liberation Sans", "fontSize": 9.5, "color": "#FFFFFF"},
     "encoding": {
       "x": {"datum": 0.46, "type": "quantitative", "scale": {"domain": [0, 153.75], "nice": false, "zero": false}, "axis": null},
       "y": {"datum": 0.00594, "type": "quantitative", "scale": {"domain": [-0.005875, 0.00725], "nice": false, "zero": false}, "axis": null},
       "text": {"field": "t"}}},
    {"data": {"values": [{"t": "HY Trader, © 2001-2014, MetaQuotes Software Corp."}]},
     "mark": {"type": "text", "align": "left", "baseline": "middle", "font": "Liberation Sans", "fontSize": 9.5, "color": "#FFFFFF"},
     "encoding": {
       "x": {"datum": 0.46, "type": "quantitative", "scale": {"domain": [0, 153.75], "nice": false, "zero": false}, "axis": null},
       "y": {"datum": -0.004875, "type": "quantitative", "scale": {"domain": [-0.005875, 0.00725], "nice": false, "zero": false}, "axis": null},
       "text": {"field": "t"}}},
    {"data": {"values": [{"t": "KumoPrice Breakout"}]},
     "mark": {"type": "text", "align": "left", "baseline": "middle", "font": "Liberation Mono", "fontSize": 11.5, "color": "#FF0000"},
     "encoding": {
       "x": {"datum": 123.75, "type": "quantitative", "scale": {"domain": [0, 153.75], "nice": false, "zero": false}, "axis": null},
       "y": {"datum": 0.000875, "type": "quantitative", "scale": {"domain": [-0.005875, 0.00725], "nice": false, "zero": false}, "axis": null},
       "text": {"field": "t"}}},
    {"data": {"name": "zero"},
     "mark": {"type": "point", "shape": "M-0.55,-1L0.55,-1L0.55,1L-0.55,1Z", "filled": true, "color": "#FF0000", "size": 121, "opacity": 1},
     "encoding": {
       "x": {"datum": 154.375, "type": "quantitative", "scale": {"domain": [0, 153.75], "nice": false, "zero": false}, "axis": null},
       "y": {"field": "v", "type": "quantitative", "scale": {"domain": [-0.005875, 0.00725], "nice": false, "zero": false}, "axis": null}}},
    {"data": {"name": "zero"},
     "mark": {"type": "text", "align": "center", "baseline": "middle", "font": "Liberation Sans", "fontSize": 9.5, "color": "#FFFFFF"},
     "encoding": {
       "x": {"datum": 154.375, "type": "quantitative", "scale": {"domain": [0, 153.75], "nice": false, "zero": false}, "axis": null},
       "y": {"field": "v", "type": "quantitative", "scale": {"domain": [-0.005875, 0.00725], "nice": false, "zero": false}, "axis": null},
       "text": {"value": "0"}}}
  ]
}
]
}
